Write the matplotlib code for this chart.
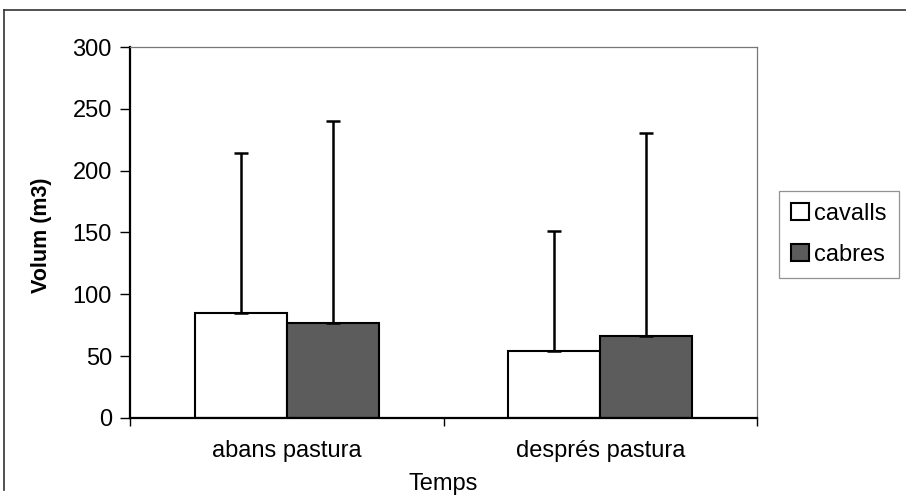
import matplotlib
matplotlib.use("Agg")
import matplotlib.pyplot as plt
import numpy as np
from matplotlib.lines import Line2D

plt.rcParams['font.family'] = ['Liberation Sans', 'DejaVu Sans']

categories = ["abans pastura", "després pastura"]
series_names = ["cavalls", "cabres"]
cavalls_mean = [85, 54.5]
cavalls_err = [129, 97]
cabres_mean = [77, 66.5]
cabres_err = [163, 164]
yticks = [0, 50, 100, 150, 200, 250, 300]

W, H = 906, 504
fig = plt.figure(figsize=(W / 100, H / 100), dpi=100)
ax = fig.add_axes([130 / W, 1 - 418 / H, (757 - 130) / W, (418 - 47) / H])

x = np.arange(len(categories))
bw = 0.293
b1 = ax.bar(x - bw / 2, cavalls_mean, bw, color="white", edgecolor="black", linewidth=1.5,
            label=series_names[0], zorder=2)
b2 = ax.bar(x + bw / 2, cabres_mean, bw, color="#5c5c5c", edgecolor="black", linewidth=1.5,
            label=series_names[1], zorder=2)
for xs, m, e in [(x - bw / 2, cavalls_mean, cavalls_err), (x + bw / 2, cabres_mean, cabres_err)]:
    ax.errorbar(xs, m, yerr=[np.zeros(len(e)), e], fmt="none", ecolor="black",
                elinewidth=1.8, capsize=4.8, capthick=1.8, zorder=3)

ax.set_ylim(0, 300)
ax.set_xlim(-0.5, 1.5)
ax.set_yticks(yticks)
ax.set_yticklabels([str(v) for v in yticks], fontsize=17)
ax.tick_params(axis="y", direction="out", length=7, width=1, pad=6)

ax.set_xticks([-0.5, 0.5, 1.5])
ax.set_xticklabels([])
ax.tick_params(axis="x", direction="out", length=6, width=1)
ax.set_xticks(x, minor=True)
ax.set_xticklabels(categories, minor=True, fontsize=17)
ax.tick_params(axis="x", which="minor", length=0, pad=16)

for s in ["left", "bottom"]:
    ax.spines[s].set_linewidth(1.6)
    ax.spines[s].set_color("black")
for s in ["top", "right"]:
    ax.spines[s].set_linewidth(0.9)
    ax.spines[s].set_color("#777777")

fig.text(42 / W, 1 - 235 / H, "Volum (m3)", rotation=90, fontsize=15.5, fontweight="bold",
         ha="center", va="center")
fig.text(443 / W, 1 - 484 / H, "Temps", fontsize=17, ha="center", va="center")

leg = fig.legend(handles=[b1, b2], labels=series_names, loc="center left",
                 bbox_to_anchor=(779 / W, 1 - 234.5 / H),
                 fontsize=17, frameon=True, fancybox=False, borderaxespad=0,
                 handlelength=0.75, handleheight=0.75, handletextpad=0.25,
                 labelspacing=0.8, borderpad=0.5)
leg.get_frame().set_edgecolor("#777777")
leg.get_frame().set_linewidth(0.9)

# outer chart border (top and left)
fig.add_artist(Line2D([4 / W, 1], [1 - 10 / H, 1 - 10 / H], color="#333333", lw=1.2,
                      transform=fig.transFigure))
fig.add_artist(Line2D([4 / W, 4 / W], [1 - 10 / H, 1 - 490 / H], color="#333333", lw=1.2,
                      transform=fig.transFigure))

fig.savefig("out.png", dpi=100)
